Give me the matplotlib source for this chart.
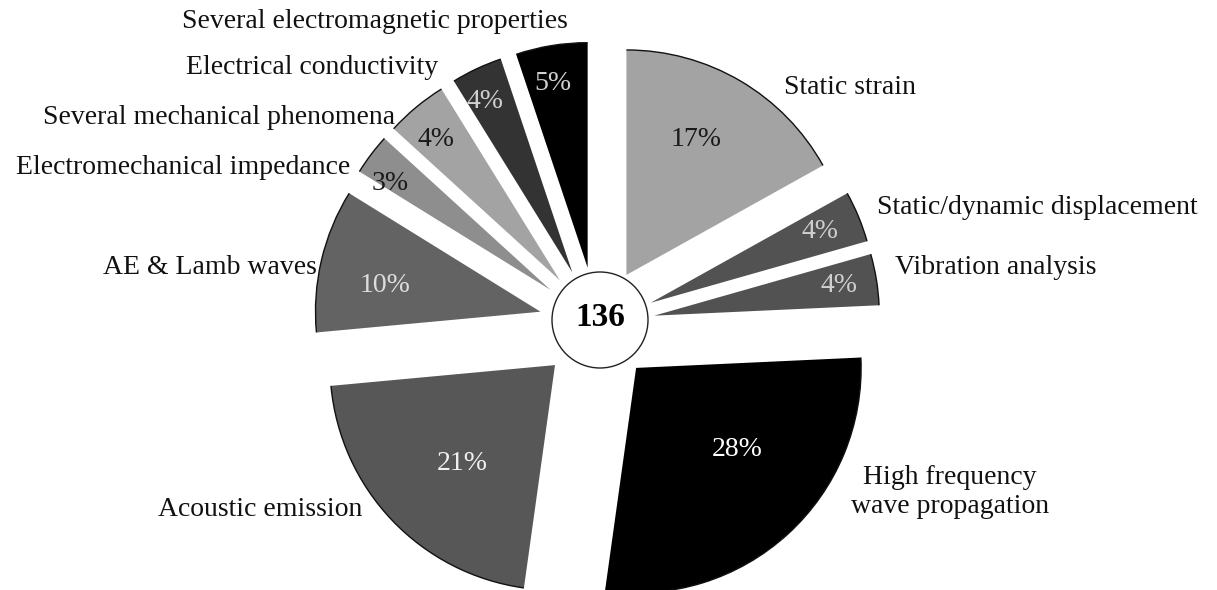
import numpy as np
import matplotlib.pyplot as plt
from matplotlib.patches import Arc, Circle

plt.rcParams['font.family'] = ['Liberation Serif', 'DejaVu Serif']

categories = ['Static strain', 'Static/dynamic displacement', 'Vibration analysis',
              'High frequency\nwave propagation', 'Acoustic emission', 'AE & Lamb waves',
              'Electromechanical impedance', 'Several mechanical phenomena',
              'Electrical conductivity', 'Several electromagnetic properties']
# paper counts out of 136 (percentages shown on the wedges)
papers = [23, 5, 5, 38, 29, 14, 4, 6, 5, 7]
total_papers = 136

colors = ['#a3a3a3', '#525252', '#525252', '#000000', '#575757',
          '#636363', '#8e8e8e', '#a3a3a3', '#333333', '#000000']
pct_colors = ['#1a1a1a', '#cfcfcf', '#cfcfcf', '#ffffff', '#f0f0f0',
              '#dddddd', '#1a1a1a', '#1a1a1a', '#d0d0d0', '#d0d0d0']

# layout, in pixels of the 1217x590 image
pct_px = [(696, 140), (820, 232), (839, 286), (737, 450), (462, 463),
          (385, 285), (390, 184), (436, 139), (485, 102), (553, 83)]
label_px = [(850, 88), (1037, 207), (996, 268), (950, 492), (260, 510),
            (210, 267), (183, 167), (219, 117), (312, 67), (375, 22)]

R = 225.0
cx, cy = 597, 325


def px(x, y):
    return (x - cx) / R, (cy - y) / R


fig = plt.figure(figsize=(12.17, 5.90), dpi=100)
ax = fig.add_axes([0, 0, 1, 1])

wedges, _, autotexts = ax.pie(papers, colors=colors, startangle=90, counterclock=False,
                              explode=[0.258] * len(papers), radius=1,
                              autopct=lambda p: '%d%%' % round(p),
                              wedgeprops=dict(linewidth=0),
                              textprops=dict(fontsize=20))

for w, t, pos, c in zip(wedges, autotexts, pct_px, pct_colors):
    t.set_position(px(*pos))
    t.set_color(c)
    ax.add_patch(Arc(w.center, 2 * w.r, 2 * w.r, theta1=w.theta1, theta2=w.theta2,
                     color='#111111', lw=1.0))

for name, (lx, ly) in zip(categories, label_px):
    ax.text(*px(lx, ly), name, fontsize=20, ha='center', va='center',
            linespacing=1.25, color='#111111')

ax.add_patch(Circle(px(600, 320), 48 / R, facecolor='white', edgecolor='#222222', lw=1.0, zorder=5))
ax.text(*px(600, 318), str(total_papers), fontsize=24, fontweight='bold',
        ha='center', va='center', zorder=6)

ax.set_xlim(-cx / R, (1217 - cx) / R)
ax.set_ylim(-(590 - cy) / R, cy / R)
ax.set_aspect('equal')
ax.axis('off')

fig.savefig('out.png', dpi=100)
